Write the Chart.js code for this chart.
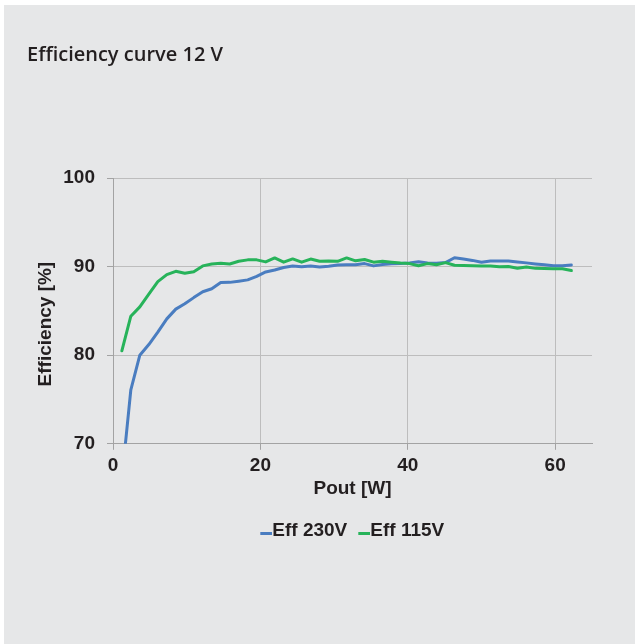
<!DOCTYPE html>
<html>
<head>
<meta charset="utf-8">
<title>Efficiency curve 12 V</title>
<script src="https://cdn.jsdelivr.net/npm/chart.js@4.4.1/dist/chart.umd.min.js"></script>
<style>
  html, body { margin: 0; padding: 0; background: #fff; }
  #panel { position: absolute; left: 4px; top: 5px; width: 631px; height: 639px; background: #e6e7e8; }
  #chart { position: absolute; left: 0; top: 0; }
</style>
</head>
<body>
<div id="panel"></div>
<canvas id="chart" width="635" height="644"></canvas>
<script>
// output power [W], one reading per point
const pout = [1.2, 2.42, 3.64, 4.86, 6.08, 7.3, 8.52, 9.74, 10.96, 12.18,
  13.4, 14.62, 15.84, 17.06, 18.28, 19.5, 20.72, 21.94, 23.16, 24.38,
  25.6, 26.82, 28.04, 29.26, 30.48, 31.7, 32.92, 34.14, 35.36, 36.58,
  37.8, 39.02, 40.24, 41.46, 42.68, 43.9, 45.12, 46.34, 47.56, 48.78,
  50.0, 51.22, 52.44, 53.66, 54.88, 56.1, 57.32, 58.54, 59.76, 60.98, 62.2];

// efficiency [%] at 230 V input
const eff230 = [66.0, 76.1, 80.0, 81.2, 82.6, 84.1, 85.2, 85.8, 86.5, 87.16,
  87.5, 88.2, 88.22, 88.35, 88.5, 88.9, 89.4, 89.62, 89.9, 90.07,
  89.97, 90.07, 89.95, 90.05, 90.18, 90.2, 90.22, 90.34, 90.08, 90.24,
  90.32, 90.34, 90.42, 90.55, 90.4, 90.38, 90.45, 91.0, 90.85, 90.7,
  90.5, 90.64, 90.64, 90.64, 90.52, 90.42, 90.3, 90.2, 90.1, 90.1, 90.18];

// efficiency [%] at 115 V input
const eff115 = [80.5, 84.4, 85.45, 86.9, 88.3, 89.1, 89.47, 89.25, 89.43, 90.08,
  90.3, 90.38, 90.3, 90.6, 90.76, 90.76, 90.53, 90.98, 90.5, 90.87,
  90.5, 90.85, 90.6, 90.62, 90.6, 90.98, 90.65, 90.8, 90.5, 90.6,
  90.5, 90.4, 90.34, 90.1, 90.34, 90.2, 90.45, 90.15, 90.12, 90.1,
  90.08, 90.07, 89.97, 90.02, 89.82, 89.95, 89.8, 89.78, 89.77, 89.75, 89.55];

const seriesNames = ['Eff 230V', 'Eff 115V'];
const seriesColors = ['#4a7dc0', '#27b35a'];

const ink = '#231f20';
const axisFont = { family: "'Liberation Sans', Arial, sans-serif", size: 19, weight: 'bold' };

// short line marker that touches the legend text, sitting a bit low
function legendMark(color) {
  const c = document.createElement('canvas');
  c.width = 21;
  c.height = 9;
  const g = c.getContext('2d');
  g.fillStyle = color;
  g.fillRect(9, 6, 12, 3);
  return c;
}

function series(i, values) {
  return {
    label: seriesNames[i],
    data: pout.map((p, k) => ({ x: p, y: values[k] })),
    borderColor: seriesColors[i],
    backgroundColor: seriesColors[i],
    borderWidth: 3,
    borderCapStyle: 'round',
    borderJoinStyle: 'round',
    pointRadius: 0,
    tension: 0,
    fill: false,
    order: i === 0 ? 1 : 0   // 115V drawn on top
  };
}

new Chart(document.getElementById('chart'), {
  type: 'line',
  data: { datasets: [series(0, eff230), series(1, eff115)] },
  options: {
    responsive: false,
    animation: false,
    layout: { padding: { left: 27, right: 43, top: 0, bottom: 94 } },
    plugins: {
      title: {
        display: true,
        text: 'Efficiency curve 12 V',
        align: 'start',
        color: ink,
        font: { family: "'Open Sans', sans-serif", size: 20, weight: '600' },
        padding: { top: 43, bottom: 111 }
      },
      legend: {
        position: 'bottom',
        fullSize: false,
        labels: {
          color: ink,
          font: axisFont,
          usePointStyle: true,
          pointStyleWidth: 2,
          padding: 11.5,
          sort: (a, b) => a.datasetIndex - b.datasetIndex,
          generateLabels: chart => Chart.defaults.plugins.legend.labels.generateLabels(chart)
            .map(item => ({ ...item, pointStyle: legendMark(seriesColors[item.datasetIndex]) }))
        }
      },
      tooltip: { enabled: false }
    },
    scales: {
      x: {
        type: 'linear',
        min: 0,
        max: 65,
        ticks: { stepSize: 20, includeBounds: false, padding: 5, color: ink, font: axisFont },
        grid: { color: '#bdbdbd', tickLength: 6, tickColor: '#a3a3a3' },
        border: { color: '#a3a3a3' },
        title: {
          display: true, text: 'Pout [W]', color: ink,
          font: { ...axisFont, lineHeight: 0.7 },
          padding: { top: 0, bottom: 13.6 }
        }
      },
      y: {
        min: 70,
        max: 100,
        afterFit: scale => { scale.width = 86; },
        ticks: { stepSize: 10, padding: 12, color: ink, font: axisFont },
        grid: { color: '#bdbdbd', tickLength: 6, tickColor: '#a3a3a3' },
        border: { color: '#a3a3a3' },
        title: { display: true, text: 'Efficiency [%]     ', color: ink, font: axisFont, padding: { top: 7, bottom: 0 } }
      }
    }
  }
});
</script>
</body>
</html>
